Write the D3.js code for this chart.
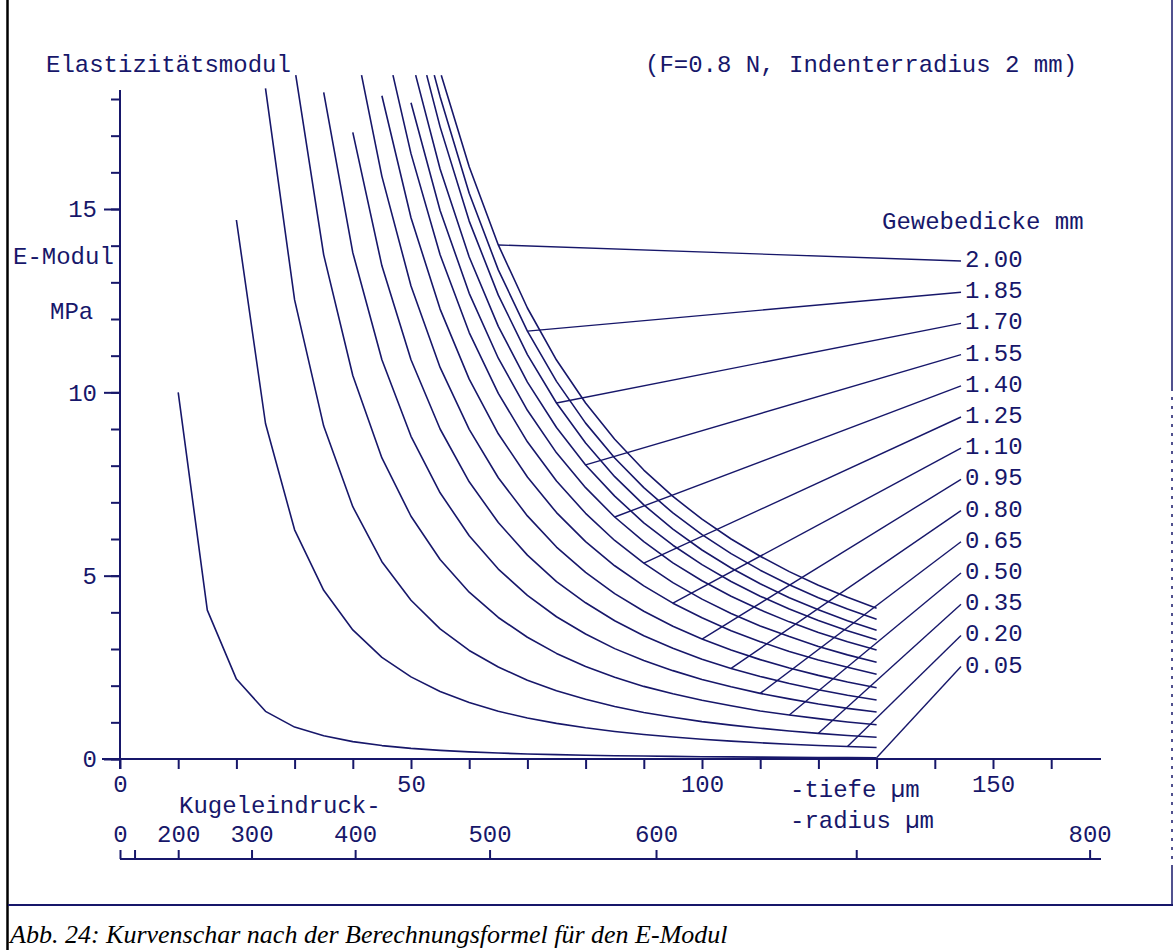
<!DOCTYPE html>
<html><head><meta charset="utf-8">
<script src="https://cdn.jsdelivr.net/npm/d3@7"></script>
<style>body{margin:0;background:#fff} svg{display:block}</style>
</head><body><svg id="c" width="1173" height="950"></svg>
<script>
// ---------- data ----------
const thickness = [0.05, 0.20, 0.35, 0.50, 0.65, 0.80, 0.95, 1.10, 1.25, 1.40, 1.55, 1.70, 1.85, 2.00];
const thicknessLabels = ["0.05","0.20","0.35","0.50","0.65","0.80","0.95","1.10","1.25","1.40","1.55","1.70","1.85","2.00"];
// first depth (µm) of each curve; after it points follow every 5 µm up to 130 µm
const startDepth = [10, 20, 25, 30.2, 35, 40, 41.5, 45, 46.9, 50, 50.8, 52.7, 54.0, 55.2];
const leaderDepth = [130, 125, 120, 115, 110, 105, 100, 95, 90, 85, 80, 75, 70, 65];
const lastDepth = 130;
// E-Modul (MPa) along each curve
const e005 = [10.0, 4.06, 2.18, 1.30, 0.87, 0.635, 0.474, 0.366, 0.290, 0.235, 0.194, 0.163, 0.138, 0.119, 0.103, 0.090, 0.080, 0.071, 0.063, 0.057, 0.051, 0.046, 0.042, 0.039, 0.035];
const e020 = [14.7, 9.15, 6.25, 4.60, 3.52, 2.77, 2.24, 1.84, 1.54, 1.30, 1.12, 0.972, 0.851, 0.751, 0.668, 0.598, 0.538, 0.487, 0.443, 0.404, 0.370, 0.340, 0.314];
const e035 = [18.29, 12.52, 9.08, 6.88, 5.38, 4.33, 3.55, 2.96, 2.51, 2.15, 1.86, 1.63, 1.43, 1.27, 1.14, 1.02, 0.924, 0.839, 0.765, 0.700, 0.643, 0.593];
const e050 = [18.65, 13.75, 10.46, 8.21, 6.62, 5.44, 4.55, 3.86, 3.32, 2.88, 2.52, 2.23, 1.98, 1.78, 1.60, 1.45, 1.31, 1.20, 1.10, 1.01, 0.933];
const e065 = [18.18, 13.81, 10.89, 8.80, 7.26, 6.09, 5.18, 4.46, 3.88, 3.41, 3.01, 2.685, 2.41, 2.17, 1.97, 1.79, 1.64, 1.50, 1.38, 1.28];
const e080 = [17.09, 13.45, 10.89, 9.00, 7.56, 6.45, 5.56, 4.84, 4.26, 3.77, 3.36, 3.02, 2.72, 2.47, 2.25, 2.06, 1.89, 1.74, 1.61];
const e095 = [18.65, 15.89, 12.90, 10.68, 8.99, 7.67, 6.63, 5.78, 5.09, 4.51, 4.03, 3.62, 3.27, 2.97, 2.71, 2.48, 2.28, 2.10, 1.945];
const e110 = [18.09, 14.76, 12.27, 10.36, 8.87, 7.69, 6.72, 5.93, 5.27, 4.72, 4.25, 3.85, 3.50, 3.20, 2.93, 2.70, 2.50, 2.31];
const e125 = [18.65, 16.51, 13.75, 11.63, 9.97, 8.65, 7.58, 6.70, 5.96, 5.34, 4.81, 4.36, 3.97, 3.63, 3.34, 3.07, 2.84, 2.64];
const e140 = [17.90, 14.96, 12.70, 10.93, 9.51, 8.35, 7.40, 6.60, 5.93, 5.35, 4.86, 4.44, 4.07, 3.74, 3.45, 3.20, 2.97];
const e155 = [18.65, 16.09, 13.69, 11.80, 10.28, 9.04, 8.02, 7.17, 6.44, 5.83, 5.30, 4.84, 4.44, 4.09, 3.78, 3.50, 3.25];
const e170 = [18.65, 17.24, 14.67, 12.65, 11.03, 9.71, 8.62, 7.70, 6.93, 6.27, 5.70, 5.21, 4.78, 4.40, 4.07, 3.77, 3.51];
const e185 = [18.65, 18.06, 15.43, 13.34, 11.67, 10.30, 9.16, 8.21, 7.40, 6.71, 6.12, 5.60, 5.15, 4.75, 4.40, 4.09, 3.81];
const e200 = [18.65, 16.15, 14.02, 12.30, 10.88, 9.71, 8.72, 7.88, 7.16, 6.54, 6.00, 5.53, 5.11, 4.74, 4.41, 4.11];
const modulus = [e005, e020, e035, e050, e065, e080, e095, e110, e125, e140, e155, e170, e185, e200];

const yMajorTicks = [0, 5, 10, 15];
const yMinorTicks = [0,1,2,3,4,5,6,7,8,9,10,11,12,13,14,15,16,17,18];
const depthTicks = [0,10,20,30,40,50,60,70,80,90,100,110,120,130,140,150,160];
const depthLabels = [0, 50, 100, 150];
const radiusTicks = [0, 100, 200, 300, 400, 500, 600, 700, 800];
const radiusTickDepth = [0, 2.5, 10.0, 22.6, 40.4, 63.5, 92.1, 126.5, 166.6];
const radiusLabels = [0, 200, 300, 400, 500, 600, 800];

// ---------- drawing ----------
const navy = "#17176a";
const mono = "'Liberation Mono', 'Courier New', monospace";
const svg = d3.select("#c");
svg.append("rect").attr("width",1173).attr("height",950).attr("fill","#fff");

const x = d3.scaleLinear().domain([0, 150]).range([120, 993]);
const y = d3.scaleLinear().domain([0, 15]).range([759, 209]);

// frame
svg.append("line").attr("x1",7.5).attr("x2",7.5).attr("y1",0).attr("y2",950).attr("stroke","#000").attr("stroke-width",2.5);
svg.append("line").attr("x1",8).attr("x2",1173).attr("y1",905).attr("y2",905).attr("stroke",navy).attr("stroke-width",2);
svg.append("line").attr("x1",1172).attr("x2",1172).attr("y1",0).attr("y2",388).attr("stroke",navy).attr("stroke-width",1.5);
svg.append("line").attr("x1",1172).attr("x2",1172).attr("y1",388).attr("y2",868).attr("stroke",navy).attr("stroke-width",1.5).attr("stroke-dasharray","3,6");
svg.append("line").attr("x1",1172).attr("x2",1172).attr("y1",868).attr("y2",905).attr("stroke",navy).attr("stroke-width",1.5);

// y axis
const yMinor = svg.append("g").attr("transform","translate(120,0)")
  .call(d3.axisLeft(y).tickValues(yMinorTicks).tickSize(9).tickFormat(""));
const yMajor = svg.append("g").attr("transform","translate(120,0)")
  .call(d3.axisLeft(y).tickValues(yMajorTicks).tickSize(16).tickPadding(7));
// x axis (depth)
const xAx = svg.append("g").attr("transform",`translate(0,${y(0)})`)
  .call(d3.axisBottom(x).tickValues(depthTicks).tickSize(10)
    .tickFormat(d => depthLabels.includes(d) ? d : ""));
// radius axis
const rAx = svg.append("g").attr("transform","translate(0,859)")
  .call(d3.axisTop(x).tickValues(radiusTickDepth).tickSize(9).tickPadding(8)
    .tickFormat((d,i) => radiusLabels.includes(radiusTicks[i]) ? radiusTicks[i] : ""));

[yMinor, yMajor, xAx, rAx].forEach(g => {
  g.select(".domain").remove();
  g.selectAll(".tick line").attr("stroke", navy).attr("stroke-width", 2);
  g.selectAll("text").attr("fill", navy).style("font-family", mono).style("font-size","24px");
});
yMajor.selectAll("text").attr("dy","0.32em");
xAx.selectAll("text").attr("y", 33).attr("dy", 0);

// axis lines
svg.append("line").attr("x1",120).attr("x2",120).attr("y1",90).attr("y2",y(0)+10).attr("stroke",navy).attr("stroke-width",2);
svg.append("line").attr("x1",102).attr("x2",1101).attr("y1",y(0)).attr("y2",y(0)).attr("stroke",navy).attr("stroke-width",2);
svg.append("line").attr("x1",120).attr("x2",1101).attr("y1",859).attr("y2",859).attr("stroke",navy).attr("stroke-width",2);

// curves
const line = d3.line().x(d => x(d[0])).y(d => y(d[1]));
const curves = modulus.map((vals, i) => {
  const s = startDepth[i];
  const depths = [s].concat(d3.range(Math.floor(s/5)*5 + 5, lastDepth + 1, 5));
  return vals.map((v, j) => [depths[j], v]);
});
svg.append("g").selectAll("path").data(curves).join("path")
  .attr("d", line).attr("fill","none").attr("stroke", navy).attr("stroke-width", 1.6)
  .attr("stroke-linejoin","round");

// leaders and labels
const labelEndX = 961, labelTopY = 261, labelStep = 31.2;
thickness.forEach((t, i) => {
  const k = thickness.length - 1 - i;
  const pts = curves[i];
  const p = pts.find(q => Math.abs(q[0] - leaderDepth[i]) < 0.01);
  const ey = labelTopY + k * labelStep;
  svg.append("line").attr("x1", x(p[0])).attr("y1", y(p[1])).attr("x2", labelEndX).attr("y2", ey)
    .attr("stroke", navy).attr("stroke-width", 1.4);
  svg.append("text").attr("x", 965).attr("y", ey + 6).text(thicknessLabels[i])
    .attr("fill", navy).style("font-family", mono).style("font-size","24px");
});

// titles
const txt = (s, xx, yy) => svg.append("text").attr("x", xx).attr("y", yy).text(s)
  .attr("fill", navy).style("font-family", mono).style("font-size","24px");
txt("Elastizitätsmodul", 46, 72);
txt("(F=0.8 N, Indenterradius 2 mm)", 645, 72);
txt("E-Modul", 13, 264);
txt("MPa", 50, 319);
txt("Gewebedicke mm", 882, 229);
txt("Kugeleindruck-", 179, 813);
txt("-tiefe µm", 790, 797);
txt("-radius µm", 790, 828);

svg.append("text").attr("x", 10).attr("y", 943)
  .text("Abb. 24: Kurvenschar nach der Berechnungsformel für den E-Modul")
  .attr("fill","#000").style("font-family","'Liberation Serif', 'Times New Roman', serif")
  .style("font-style","italic").style("font-size","26px");
</script></body></html>
